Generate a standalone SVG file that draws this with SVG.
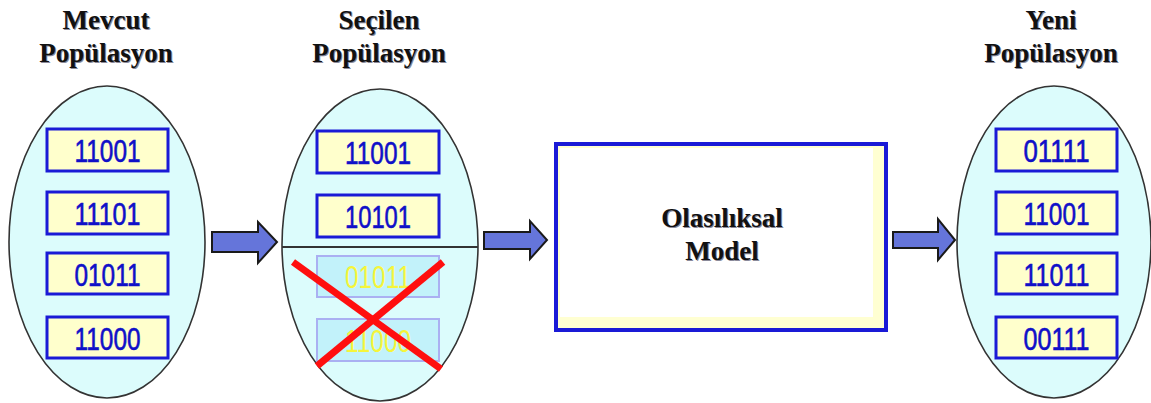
<svg xmlns="http://www.w3.org/2000/svg" width="1151" height="403" viewBox="0 0 1151 403">
  <style>
    .title { font-family: 'Liberation Serif', 'Times New Roman', Times, 'DejaVu Serif', serif; font-weight: 700; font-size: 27px; fill: #111; text-anchor: middle; }
    .shadow { fill: #8a8a9a; }
    .pop { fill: #dcfcfc; stroke: #333; stroke-width: 1.6; }
    .chrom { fill: #ffffcc; stroke: #1a1ad6; stroke-width: 3; }
    .bits { font-family: 'Liberation Sans', Arial, sans-serif; font-size: 32px; fill: #1010c8; stroke: #1010c8; stroke-width: 0.6; text-anchor: middle; }
    .dropped { fill: #c2f2fa; stroke: #aab0f2; stroke-width: 2; }
    .dropped-bits { font-family: 'Liberation Sans', Arial, sans-serif; font-size: 32px; fill: #f5f53a; text-anchor: middle; }
    .arrow { fill: #6575da; stroke: #1a1a1a; stroke-width: 2; stroke-linejoin: miter; }
    .cross { stroke: #ff0f0f; stroke-width: 7; stroke-linecap: butt; }
  </style>

  <!-- current population -->
  <g id="mevcut">
    <text class="title shadow" x="107" y="30">Mevcut</text>
    <text class="title" x="106" y="29">Mevcut</text>
    <text class="title shadow" x="107" y="63">Popülasyon</text>
    <text class="title" x="106" y="62">Popülasyon</text>
    <ellipse class="pop" cx="107" cy="242" rx="98" ry="156"/>
    <rect class="chrom" x="47" y="129" width="121" height="42"/>
    <text class="bits" x="107.5" y="162" textLength="66" lengthAdjust="spacingAndGlyphs">11001</text>
    <rect class="chrom" x="47" y="192" width="121" height="42"/>
    <text class="bits" x="107.5" y="225" textLength="66" lengthAdjust="spacingAndGlyphs">11101</text>
    <rect class="chrom" x="47" y="253" width="121" height="41"/>
    <text class="bits" x="107.5" y="286" textLength="66" lengthAdjust="spacingAndGlyphs">01011</text>
    <rect class="chrom" x="47" y="317" width="121" height="41"/>
    <text class="bits" x="107.5" y="350" textLength="66" lengthAdjust="spacingAndGlyphs">11000</text>
  </g>

  <!-- selected population -->
  <g id="secilen">
    <text class="title shadow" x="380" y="30">Seçilen</text>
    <text class="title" x="379" y="29">Seçilen</text>
    <text class="title shadow" x="380" y="63">Popülasyon</text>
    <text class="title" x="379" y="62">Popülasyon</text>
    <ellipse class="pop" cx="380" cy="245" rx="98" ry="156"/>
    <rect class="chrom" x="317" y="131" width="122" height="42"/>
    <text class="bits" x="378" y="164" textLength="66" lengthAdjust="spacingAndGlyphs">11001</text>
    <rect class="chrom" x="317" y="195" width="122" height="42"/>
    <text class="bits" x="378" y="228" textLength="66" lengthAdjust="spacingAndGlyphs">10101</text>
    <line x1="282" y1="247" x2="478" y2="247" stroke="#333" stroke-width="2.2"/>
    <rect class="dropped" x="317" y="256" width="122" height="41"/>
    <text class="dropped-bits" x="378" y="288" textLength="66" lengthAdjust="spacingAndGlyphs">01011</text>
    <rect class="dropped" x="317" y="319" width="122" height="42"/>
    <text class="dropped-bits" x="378" y="352" textLength="66" lengthAdjust="spacingAndGlyphs">11000</text>
    <line class="cross" x1="293" y1="262" x2="441" y2="369"/>
    <line class="cross" x1="443" y1="262" x2="317" y2="366"/>
  </g>

  <!-- probabilistic model -->
  <g id="model">
    <rect x="556" y="144" width="330" height="186" fill="#ffffd2" stroke="#1a1ad6" stroke-width="4"/>
    <rect x="560" y="148" width="313" height="169" fill="#ffffff"/>
    <text class="title shadow" x="723" y="228">Olasılıksal</text>
    <text class="title" x="722" y="227">Olasılıksal</text>
    <text class="title shadow" x="723" y="261">Model</text>
    <text class="title" x="722" y="260">Model</text>
  </g>

  <!-- new population -->
  <g id="yeni">
    <text class="title shadow" x="1052" y="30">Yeni</text>
    <text class="title" x="1051" y="29">Yeni</text>
    <text class="title shadow" x="1052" y="63">Popülasyon</text>
    <text class="title" x="1051" y="62">Popülasyon</text>
    <ellipse class="pop" cx="1054" cy="242" rx="97" ry="156"/>
    <rect class="chrom" x="996" y="129" width="121" height="42"/>
    <text class="bits" x="1056.5" y="162" textLength="66" lengthAdjust="spacingAndGlyphs">01111</text>
    <rect class="chrom" x="996" y="192" width="121" height="42"/>
    <text class="bits" x="1056.5" y="225" textLength="66" lengthAdjust="spacingAndGlyphs">11001</text>
    <rect class="chrom" x="996" y="253" width="121" height="41"/>
    <text class="bits" x="1056.5" y="286" textLength="66" lengthAdjust="spacingAndGlyphs">11011</text>
    <rect class="chrom" x="996" y="317" width="121" height="41"/>
    <text class="bits" x="1056.5" y="350" textLength="66" lengthAdjust="spacingAndGlyphs">00111</text>
  </g>

  <!-- block arrows between stages -->
  <g id="connectors">
    <polygon class="arrow" points="212,232 258,232 258,222 277,242 258,263 258,252 212,252"/>
    <polygon class="arrow" points="484,232 530,232 530,221 547,240 530,259 530,249 484,249"/>
    <polygon class="arrow" points="893,232 938,232 938,219 955,240 938,260 938,248 893,248"/>
  </g>
</svg>
